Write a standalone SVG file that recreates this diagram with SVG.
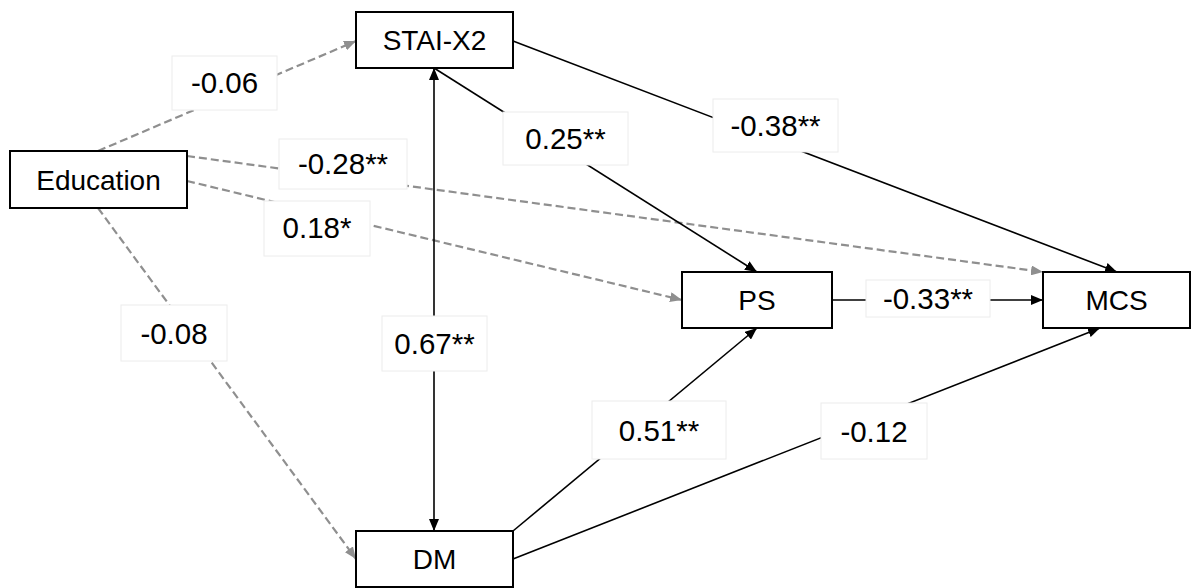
<svg xmlns="http://www.w3.org/2000/svg" width="1197" height="588" viewBox="0 0 1197 588">
<style>
.node rect{fill:#fff;stroke:#000;stroke-width:2}
.node text{font-family:"Liberation Sans",Arial,sans-serif;font-size:28px;fill:#000;text-anchor:middle}
.solid{stroke:#000;stroke-width:1.6;fill:none}
.dash{stroke:#8f8f8f;stroke-width:2.2;stroke-dasharray:8 4;fill:none}
.lbl rect{fill:#fff;stroke:#ececec;stroke-width:1}
.lbl text{font-family:"Liberation Sans",Arial,sans-serif;font-size:29.5px;fill:#000;text-anchor:middle}
</style>
<defs>
<marker id="ab" viewBox="0 0 12 10" refX="12" refY="5" markerWidth="12" markerHeight="10" markerUnits="userSpaceOnUse" orient="auto-start-reverse"><path d="M0,0 L12,5 L0,10 Z" fill="#000"/></marker>
<marker id="ag" viewBox="0 0 12 10" refX="12" refY="5" markerWidth="12" markerHeight="10" markerUnits="userSpaceOnUse" orient="auto"><path d="M0,0 L12,5 L0,10 Z" fill="#8f8f8f"/></marker>
</defs>
<rect width="1197" height="588" fill="#fff"/>
<g id="connectors">
<line class="dash" x1="98" y1="151" x2="356" y2="41" marker-end="url(#ag)"/>
<line class="dash" x1="187" y1="156" x2="1043" y2="272" marker-end="url(#ag)"/>
<line class="dash" x1="187" y1="181" x2="682" y2="300" marker-end="url(#ag)"/>
<line class="dash" x1="98" y1="208" x2="356" y2="559" marker-end="url(#ag)"/>
<line class="solid" x1="434" y1="68" x2="434" y2="531" marker-start="url(#ab)" marker-end="url(#ab)"/>
<line class="solid" x1="434" y1="68" x2="757" y2="272" marker-end="url(#ab)"/>
<line class="solid" x1="513" y1="41" x2="1117" y2="272" marker-end="url(#ab)"/>
<line class="solid" x1="513" y1="531" x2="757" y2="328" marker-end="url(#ab)"/>
<line class="solid" x1="513" y1="559" x2="1100" y2="328" marker-end="url(#ab)"/>
<line class="solid" x1="832" y1="300" x2="1043" y2="300" marker-end="url(#ab)"/>
</g>
<g id="labels">
<g class="lbl"><rect x="172" y="56" width="105" height="54"/><text x="224.5" y="93">-0.06</text></g>
<g class="lbl"><rect x="279" y="139" width="128" height="50"/><text x="343" y="174">-0.28**</text></g>
<g class="lbl"><rect x="264" y="201" width="106" height="55"/><text x="317" y="238">0.18*</text></g>
<g class="lbl"><rect x="503" y="112" width="125" height="53"/><text x="565.5" y="149">0.25**</text></g>
<g class="lbl"><rect x="713" y="99" width="125" height="53"/><text x="775.5" y="136">-0.38**</text></g>
<g class="lbl"><rect x="866" y="280" width="124" height="37"/><text x="928" y="309">-0.33**</text></g>
<g class="lbl"><rect x="121" y="305" width="106" height="56"/><text x="174" y="344">-0.08</text></g>
<g class="lbl"><rect x="382" y="316" width="105" height="55"/><text x="434.5" y="354">0.67**</text></g>
<g class="lbl"><rect x="592" y="401" width="134" height="58"/><text x="659" y="441">0.51**</text></g>
<g class="lbl"><rect x="821" y="403" width="106" height="56"/><text x="874" y="442">-0.12</text></g>
</g>
<g id="education" class="node"><rect x="10" y="151" width="177" height="57"/><text x="98.5" y="190">Education</text></g>
<g id="stai" class="node"><rect x="356" y="12" width="157" height="56"/><text x="434.5" y="50">STAI-X2</text></g>
<g id="ps" class="node"><rect x="682" y="272" width="150" height="56"/><text x="757" y="310">PS</text></g>
<g id="mcs" class="node"><rect x="1043" y="272" width="147" height="56"/><text x="1116.5" y="310">MCS</text></g>
<g id="dm" class="node"><rect x="356" y="531" width="157" height="56"/><text x="434.5" y="569">DM</text></g>
</svg>
